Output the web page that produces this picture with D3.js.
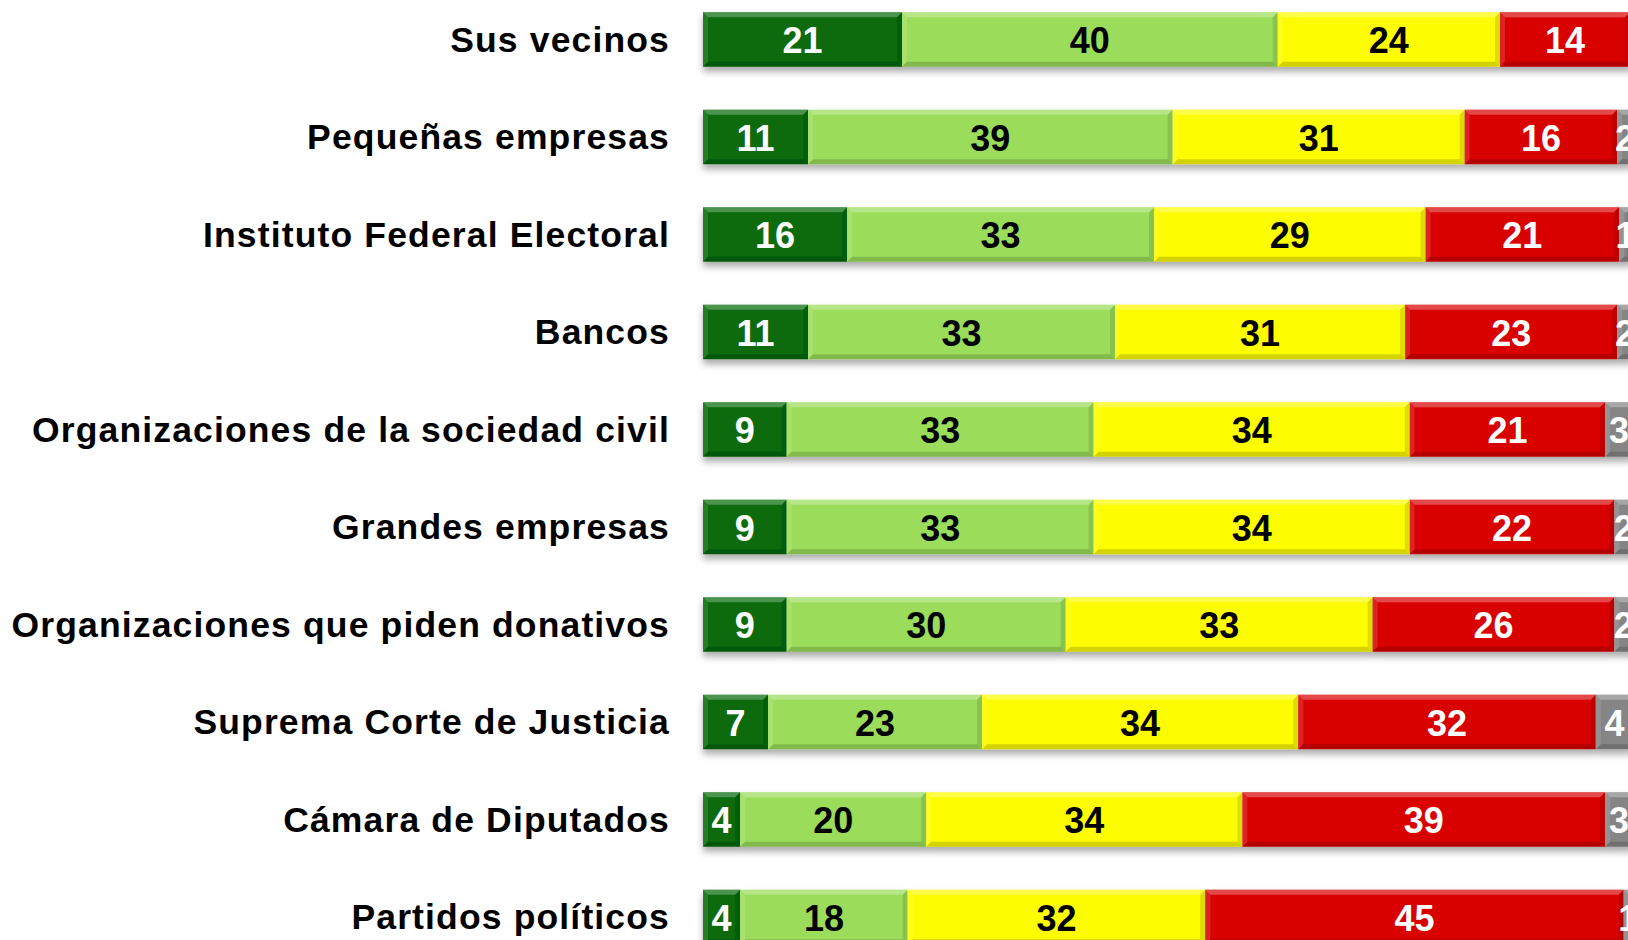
<!DOCTYPE html>
<html>
<head>
<meta charset="utf-8">
<script src="https://cdn.jsdelivr.net/npm/d3@7"></script>
<style>
  html, body { margin: 0; padding: 0; background: #ffffff; overflow: hidden; }
  svg { display: block; }
</style>
</head>
<body>
<svg id="chart" width="1628" height="940"></svg>
<script>
// ---- data (labels show rounded values) ----
const categories = [
  "Sus vecinos",
  "Pequeñas empresas",
  "Instituto Federal Electoral",
  "Bancos",
  "Organizaciones de la sociedad civil",
  "Grandes empresas",
  "Organizaciones que piden donativos",
  "Suprema Corte de Justicia",
  "Cámara de Diputados",
  "Partidos políticos"
];
const seriesNames = ["Mucha", "Algo", "Poca", "Nada", "NS/NC"];
const mucha = [21.4, 11.3, 15.5, 11.3, 9, 9, 9, 7, 4, 4];
const algo  = [40.4, 39.2, 33.0, 33.0, 33, 33, 30, 23, 20, 18];
const poca  = [23.9, 31.4, 29.2, 31.2, 34, 34, 33, 34, 34, 32];
const nada  = [14.0, 16.4, 20.8, 22.8, 21, 22, 26, 32, 39, 45];
const nsnc  = [0.3, 1.7, 1.4, 1.7, 3, 2, 2, 4, 3, 1];
const seriesColors = ["#076b0a", "#9bdd5a", "#fdfc00", "#d90202", "#858585"];
const textColors = ["#ffffff", "#000000", "#000000", "#ffffff", "#ffffff"];

const seriesValues = [mucha, algo, poca, nada, nsnc];
const rows = categories.map((c, i) => {
  const r = { cat: c };
  seriesNames.forEach((s, k) => r[s] = seriesValues[k][i]);
  return r;
});

const svg = d3.select("#chart");
const defs = svg.append("defs");
const f = defs.append("filter").attr("id", "shadow")
  .attr("x", "-5%").attr("y", "-20%").attr("width", "110%").attr("height", "160%");
f.append("feDropShadow").attr("dx", 0).attr("dy", 5).attr("stdDeviation", 3.5)
  .attr("flood-color", "#000").attr("flood-opacity", 0.33);

const x = d3.scaleLinear().domain([0, 100]).range([703, 1633]);
const y = d3.scaleBand().domain(categories).range([12.2, 944.2])
  .paddingInner(0.441).paddingOuter(0).align(0);

const stack = d3.stack().keys(seriesNames)(rows);

// category labels
svg.append("g").selectAll("text").data(categories).join("text")
  .attr("x", 670)
  .attr("y", d => y(d) + y.bandwidth() / 2 + 12.5)
  .attr("text-anchor", "end")
  .attr("font-family", "'Liberation Sans', Arial, sans-serif")
  .attr("font-weight", "bold")
  .attr("font-size", 35.5)
  .attr("letter-spacing", 1.15)
  .attr("fill", "#000")
  .text(d => d);

const bw = y.bandwidth();
const bev = 5;

const rowG = svg.append("g").selectAll("g").data(categories).join("g")
  .attr("filter", "url(#shadow)");

stack.forEach((layer, k) => {
  layer.forEach((seg, i) => {
    const g = rowG.filter((d, j) => j === i);
    const x0 = x(seg[0]), x1 = x(seg[1]), y0 = y(categories[i]), y1 = y0 + bw;
    const w = x1 - x0;
    const b = Math.min(bev, w / 2);
    g.append("rect")
      .attr("x", x0).attr("y", y0).attr("width", w).attr("height", bw)
      .attr("fill", seriesColors[k]);
    g.append("polygon")
      .attr("points", [[x0, y0], [x1, y0], [x1 - b, y0 + bev], [x0 + b, y0 + bev]].join(" "))
      .attr("fill", "#fff").attr("opacity", 0.28);
    g.append("polygon")
      .attr("points", [[x0, y0], [x0 + b, y0 + bev], [x0 + b, y1 - bev], [x0, y1]].join(" "))
      .attr("fill", "#fff").attr("opacity", 0.12);
    g.append("polygon")
      .attr("points", [[x0, y1], [x0 + b, y1 - bev], [x1 - b, y1 - bev], [x1, y1]].join(" "))
      .attr("fill", "#000").attr("opacity", 0.16);
    g.append("polygon")
      .attr("points", [[x1, y0], [x1 - b, y0 + bev], [x1 - b, y1 - bev], [x1, y1]].join(" "))
      .attr("fill", "#000").attr("opacity", 0.12);
  });
});

// value labels (rounded; values that round to 0 are not labelled)
stack.forEach((layer, k) => {
  svg.append("g").selectAll("text")
    .data(layer.map((d, i) => ({ d, i })).filter(o => Math.round(o.d[1] - o.d[0]) > 0))
    .join("text")
    .attr("x", o => (x(o.d[0]) + x(o.d[1])) / 2)
    .attr("y", o => y(categories[o.i]) + bw / 2 + 14)
    .attr("text-anchor", "middle")
    .attr("font-family", "'Liberation Sans', Arial, sans-serif")
    .attr("font-weight", "bold")
    .attr("font-size", 36)
    .attr("fill", textColors[k])
    .text(o => Math.round(o.d[1] - o.d[0]));
});
</script>
</body>
</html>
